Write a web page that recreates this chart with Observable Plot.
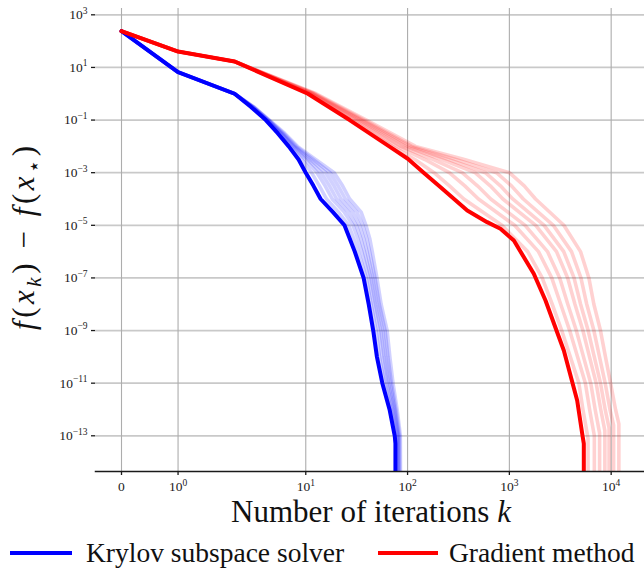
<!DOCTYPE html>
<html><head><meta charset="utf-8">
<script src="https://cdn.jsdelivr.net/npm/d3@7"></script>
<script src="https://cdn.jsdelivr.net/npm/@observablehq/plot@0.6"></script>
<style>body{margin:0;background:#fff;} #chart svg{display:block;}</style>
</head><body><div id="chart"></div>
<script>
// ---- tick labels ----
const xTickValues = [0, 1, 10, 100, 1000, 10000];
const xTickLabels = ["0", "10⁰", "10¹", "10²", "10³", "10⁴"];
const yTickValues = [1e3, 1e1, 1e-1, 1e-3, 1e-5, 1e-7, 1e-9, 1e-11, 1e-13];
const yTickLabels = ["10³", "10¹", "10⁻¹", "10⁻³", "10⁻⁵", "10⁻⁷", "10⁻⁹", "10⁻¹¹", "10⁻¹³"];
const legendLabels = ["Krylov subspace solver", "Gradient method"];

// ---- Krylov subspace solver: bold run (iteration k, log10 of gap) ----
const krylovMainK   = [0, 1, 2, 2.9, 4.05, 5.3, 6.8, 8.5, 10, 11.9, 14, 18.5, 24, 27, 30.3, 37, 41.5, 46, 50, 56.5, 66.5, 74.8, 76, 76];
const krylovMainLog = [2.38, 0.82, 0, -0.5, -1, -1.5, -2, -2.5, -3, -3.5, -4, -4.5, -5, -5.5, -6, -7, -8, -9, -10, -11, -12, -13, -13.3, -16];
// faint runs: iteration k at which each run reaches these log10 levels
const krylovFaintLevels = [2.38, 0.82, 0, -0.5, -1, -1.5, -2, -2.5, -3, -3.5, -4, -4.5, -5, -5.5, -6, -7, -8, -9, -10, -11, -12, -13, -16];
const krylovFaintK = [
  [0, 1, 2, 2.94, 4.12, 5.47, 7.07, 9.18, 11.4, 13.6, 16.0, 21.0, 26.4, 29.6, 32.8, 39.3, 43.9, 49.0, 53.0, 59.3, 68.8, 76.7, 77],
  [0, 1, 2, 2.98, 4.19, 5.64, 7.35, 9.91, 12.9, 15.5, 18.2, 23.9, 29.1, 32.4, 35.5, 41.7, 46.4, 52.2, 56.2, 62.3, 71.2, 78.7, 79],
  [0, 1, 2, 3.01, 4.24, 5.77, 7.57, 10.5, 14.2, 17.1, 20.1, 26.3, 31.3, 34.7, 37.7, 43.7, 48.4, 54.7, 58.8, 64.5, 73.1, 80.3, 80.7],
  [0, 1, 2, 3.04, 4.29, 5.91, 7.80, 11.1, 15.7, 18.9, 22.2, 28.9, 33.7, 37.1, 40.0, 45.7, 50.5, 57.4, 61.4, 67.0, 75.0, 81.8, 82.2],
  [0, 1, 2, 3.07, 4.34, 6.05, 8.05, 11.8, 17.3, 20.8, 24.5, 31.8, 36.3, 39.7, 42.4, 47.8, 52.7, 60.1, 64.1, 69.4, 76.9, 83.4, 83.8],
  [0, 1, 2, 3.1, 4.4, 6.2, 8.3, 12.5, 19, 23, 27, 35, 39, 42.5, 45, 50, 55, 63, 67, 72, 79, 85, 85.5]
];

// ---- Gradient method: bold run ----
const gradMainK   = [0, 1, 2, 10.5, 27, 66, 100.5, 144, 211, 386, 605, 818, 1107, 1738, 2265, 3428, 4636, 5200, 5386, 5386];
const gradMainLog = [2.377, 1.605, 1.225, 0, -1, -2, -2.47, -3, -3.55, -4.44, -4.88, -5.13, -5.58, -6.84, -7.86, -9.76, -11.66, -12.93, -13.3, -16];
// faint runs: k at these log10 levels (second-last level is each run's own end level)
const gradFaintLevels = [2.377, 1.605, 1.225, 0, -1, -2, -2.5, -3, -3.5, -4, -5, -6, -7, -8, -9, -10, -11, -12, null, -16];
const gradFaintEndLevel = [-13.1, -13.0, -12.9, -12.8, -12.7, -12.6, -12.55];
const gradFaintK = [
  [0, 1, 2, 10.7, 28.3, 71, 118, 182, 258, 357, 845, 1514, 2102, 2637, 3270, 3970, 4816, 5281, 5925, 5925],
  [0, 1, 2, 11.1, 30.3, 79, 148, 257, 365, 497, 1126, 1932, 2608, 3195, 3915, 4672, 5580, 6141, 6835, 6835],
  [0, 1, 2, 11.4, 32.0, 86, 179, 344, 486, 656, 1428, 2369, 3123, 3751, 4545, 5349, 6300, 6962, 7697, 7697],
  [0, 1, 2, 11.8, 33.9, 94.5, 217, 461, 649, 864, 1814, 2905, 3738, 4407, 5277, 6127, 7121, 7898, 8671, 8671],
  [0, 1, 2, 12.0, 35.5, 102, 253, 581, 817, 1079, 2196, 3420, 4319, 5009, 5942, 6829, 7854, 8729, 9533, 9533],
  [0, 1, 2, 12.3, 37.3, 110, 299, 747, 1049, 1371, 2701, 4078, 5047, 5755, 6766, 7680, 8732, 9731, 10567, 10567],
  [0, 1, 2, 12.7, 39.5, 120, 362, 1000, 1400, 1808, 3430, 5000, 6040, 6762, 7852, 8790, 9862, 11040, 11900, 11900]
];

// ---- axis transform: symmetric log with linear threshold 2 ----
const xpos = k => k <= 2 ? k / 1.8 : 1 / 0.9 + Math.log10(k / 2);
const xPosTicks = xTickValues.map(xpos);

// ---- build tables ----
const krylovMain = krylovMainK.map((k, i) => ({k, y: 10 ** krylovMainLog[i]}));
const krylovFaint = krylovFaintK.flatMap((ks, r) => ks.map((k, i) => ({run: r, k, y: 10 ** krylovFaintLevels[i]})));
const gradMain = gradMainK.map((k, i) => ({k, y: 10 ** gradMainLog[i]}));
const gradFaint = gradFaintK.flatMap((ks, r) => ks.map((k, i) => ({run: r, k, y: 10 ** (gradFaintLevels[i] ?? gradFaintEndLevel[r])})));

const FONT = "'Liberation Serif', 'DejaVu Serif', serif";
const BLUE = "#0000ff", RED = "#ff0000";

const svg = Plot.plot({
  width: 644,
  height: 569,
  marginLeft: 95,
  marginRight: 0,
  marginTop: 8,
  marginBottom: 98,
  style: {fontFamily: FONT, fontSize: "13.5px", color: "#1a1a1a", background: "#fff"},
  x: {type: "linear", domain: [-0.2554, 5.1375]},
  y: {type: "log", domain: [10 ** -14.357, 10 ** 3.24]},
  marks: [
    Plot.gridY(yTickValues, {stroke: "#c9c9c9", strokeOpacity: 1, strokeWidth: 1.7}),
    Plot.gridX(xPosTicks, {stroke: "#adadad", strokeOpacity: 1, strokeWidth: 1.1}),
    Plot.line(krylovFaint, {x: d => xpos(d.k), y: "y", z: "run", stroke: BLUE, strokeOpacity: 0.18, strokeWidth: 3.6, clip: true}),
    Plot.line(krylovMain, {x: d => xpos(d.k), y: "y", stroke: BLUE, strokeWidth: 4, clip: true}),
    Plot.line(gradFaint, {x: d => xpos(d.k), y: "y", z: "run", stroke: RED, strokeOpacity: 0.18, strokeWidth: 3.6, clip: true}),
    Plot.line(gradMain, {x: d => xpos(d.k), y: "y", stroke: RED, strokeWidth: 4, clip: true}),
    Plot.frame({anchor: "bottom", stroke: "#1a1a1a", strokeWidth: 1.5}),
    Plot.axisY(yTickValues, {anchor: "left", tickSize: 4, tickPadding: 4, strokeWidth: 1.3, label: null, fontSize: 13.5,
      tickFormat: d => yTickLabels[yTickValues.indexOf(d)]}),
    Plot.axisX(xPosTicks, {anchor: "bottom", tickSize: 4, tickPadding: 6, strokeWidth: 1.3, label: null, fontSize: 13.5,
      tickFormat: d => xTickLabels[xPosTicks.indexOf(d)]})
  ]
});

const s = d3.select(svg);

// typeset powers of ten in tick labels with a real raised exponent
const supMap = {"⁰": "0", "¹": "1", "²": "2", "³": "3", "⁴": "4", "⁵": "5", "⁶": "6", "⁷": "7", "⁸": "8", "⁹": "9", "⁻": "−"};
s.selectAll("text").each(function () {
  const t = this.textContent;
  if (this.querySelector("tspan") && this.querySelectorAll("tspan").length > 1) return;
  if (/^10[⁰¹²³⁴⁵⁶⁷⁸⁹⁻]+$/.test(t)) {
    const exp = [...t.slice(2)].map(c => supMap[c] ?? c).join("");
    const sel = d3.select(this);
    sel.text(null);
    sel.append("tspan").text("10");
    sel.append("tspan").attr("dy", -5.5).style("font-size", "9.5px").text(exp);
  }
});

// y label
const yl = s.append("text")
  .attr("transform", "translate(34,238) rotate(-90)")
  .attr("text-anchor", "middle")
  .attr("textLength", 184).attr("lengthAdjust", "spacing")
  .attr("fill", "#111")
  .style("font-family", FONT).style("font-size", "31px");
const part = (t, italic, dy, size) => {
  const ts = yl.append("tspan").text(t);
  if (italic) ts.style("font-style", "italic");
  if (dy) ts.attr("dy", dy);
  if (size) ts.style("font-size", size);
};
part("f", true); part("("); part("x", true); part("k", true, 7, "21px"); part(")", false, -7);
part(" − "); part("f", true); part("("); part("x", true); part("⋆", false, 7, "21px"); part(")", false, -7);

// x label
const xl = s.append("text").attr("x", 371).attr("y", 522).attr("text-anchor", "middle")
  .attr("fill", "#111").style("font-family", FONT).style("font-size", "31px");
xl.append("tspan").text("Number of iterations ");
xl.append("tspan").style("font-style", "italic").text("k");

// legend
const lg = s.append("g").style("font-family", FONT).style("font-size", "27.5px").attr("fill", "#111").attr("text-anchor", "start");
lg.append("line").attr("x1", 10).attr("x2", 72).attr("y1", 553).attr("y2", 553).attr("stroke", BLUE).attr("stroke-width", 4);
lg.append("text").attr("x", 86).attr("y", 562).attr("text-anchor", "start").text(legendLabels[0]);
lg.append("line").attr("x1", 378).attr("x2", 438).attr("y1", 553).attr("y2", 553).attr("stroke", RED).attr("stroke-width", 4);
lg.append("text").attr("x", 449).attr("y", 562).attr("text-anchor", "start").text(legendLabels[1]);

document.getElementById("chart").appendChild(svg);
</script>
</body></html>
